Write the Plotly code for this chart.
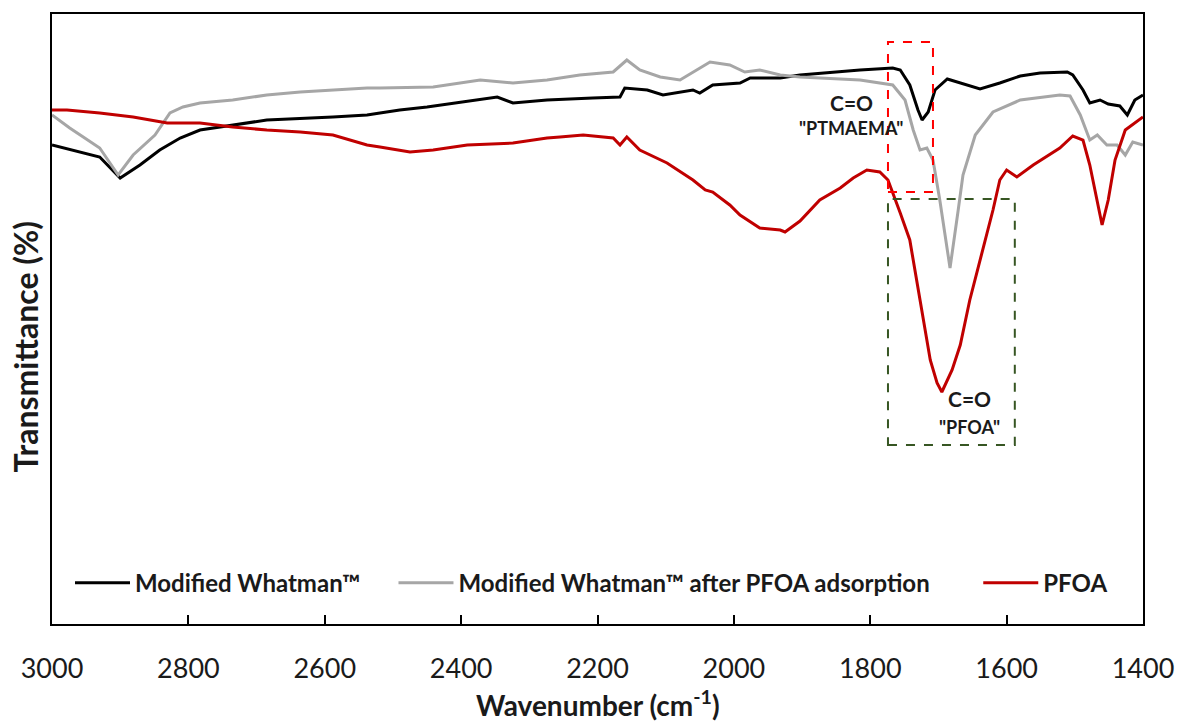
import plotly.graph_objects as go

# ---- data (wavenumber cm-1, transmittance in arbitrary units) ----
wn_black = [3000, 2959, 2930, 2900, 2871, 2842, 2812, 2783, 2735, 2685, 2588, 2538, 2519, 2490, 2450,
            2372, 2347, 2324, 2274, 2207, 2167, 2160, 2127, 2104, 2060, 2050, 2031, 1991, 1976, 1932,
            1903, 1815, 1767, 1756, 1742, 1730, 1724, 1715, 1705, 1687, 1668, 1639, 1610, 1580, 1551,
            1511, 1503, 1488, 1478, 1463, 1451, 1434, 1423, 1412, 1400]
t_black = [479, 472, 467, 446, 459, 474, 486, 494, 499, 504, 507, 509, 511, 514, 517,
           525, 527, 521, 524, 526, 527, 536, 534, 529, 534, 531, 539, 541, 546, 546,
           549, 554, 556, 554, 539, 514, 504, 512, 534, 545, 541, 535, 541, 548, 551,
           552, 549, 534, 521, 524, 520, 518, 509, 524, 529]

wn_gray = [3000, 2974, 2952, 2930, 2903, 2881, 2849, 2827, 2808, 2783, 2735, 2685, 2636, 2538, 2519,
           2441, 2372, 2324, 2274, 2226, 2177, 2157, 2138, 2108, 2079, 2060, 2035, 2006, 1984, 1962,
           1932, 1903, 1815, 1767, 1749, 1737, 1727, 1717, 1708, 1698, 1683, 1671, 1664, 1646, 1620,
           1580, 1522, 1507, 1492, 1478, 1467, 1453, 1438, 1426, 1415, 1400]
t_gray = [509, 496, 486, 476, 449, 469, 489, 511, 517, 521, 524, 529, 532, 536, 536,
          537, 544, 541, 544, 549, 552, 564, 554, 547, 544, 552, 562, 559, 552, 554,
          549, 547, 544, 539, 524, 494, 474, 476, 464, 424, 356, 414, 449, 489, 512,
          524, 529, 528, 509, 484, 489, 479, 479, 469, 482, 479]

wn_red = [3000, 2978, 2930, 2881, 2856, 2831, 2783, 2735, 2685, 2636, 2588, 2538, 2519, 2475, 2441,
          2391, 2324, 2274, 2255, 2221, 2177, 2167, 2157, 2138, 2098, 2060, 2042, 2031, 2006, 1991,
          1962, 1932, 1925, 1903, 1874, 1844, 1825, 1805, 1786, 1774, 1756, 1742, 1727, 1712, 1702,
          1695, 1680, 1668, 1654, 1635, 1620, 1610, 1600, 1585, 1561, 1522, 1503, 1488, 1478, 1463,
          1460, 1451, 1441, 1426, 1412, 1400]
t_red = [514, 514, 511, 507, 504, 501, 501, 497, 494, 492, 489, 479, 477, 472, 474,
         479, 481, 486, 487, 489, 486, 479, 487, 474, 461, 444, 434, 432, 419, 409,
         396, 394, 392, 403, 424, 436, 446, 454, 452, 444, 411, 384, 324, 264, 241,
         232, 254, 279, 324, 374, 414, 444, 454, 447, 459, 476, 488, 484, 459, 409,
         399, 424, 464, 494, 501, 507]

series_names = ["Modified Whatman™", "Modified Whatman™ after PFOA adsorption", "PFOA"]
tick_vals = [3000, 2800, 2600, 2400, 2200, 2000, 1800, 1600, 1400]

FONT = "Lato"
TXT = "#1a1a1a"
colors = ["#000000", "#a6a6a6", "#c00000"]

fig = go.Figure()
data = [(wn_black, t_black), (wn_gray, t_gray), (wn_red, t_red)]
legends = ["legend", "legend2", "legend3"]
for (x, y), name, c, lg in zip(data, series_names, colors, legends):
    fig.add_trace(go.Scatter(x=x, y=y, mode="lines", name="<b>" + name + "</b>",
                             line=dict(color=c, width=3), legend=lg))

# dashed boxes
fig.add_shape(type="rect", x0=1774, x1=1708, y0=432, y1=582,
              line=dict(color="#ff0000", width=2, dash="dash"))
fig.add_shape(type="rect", x0=1774, x1=1588, y0=179, y1=425,
              line=dict(color="#375623", width=2, dash="dash"))

# annotations
ann_font_big = dict(family=FONT, size=21, color=TXT)
ann_font_small = dict(family=FONT, size=18, color=TXT)
fig.add_annotation(x=1828, y=522, text="<b>C=O</b>", showarrow=False, font=ann_font_big)
fig.add_annotation(x=1828, y=496, text='<b>"PTMAEMA"</b>', showarrow=False, font=ann_font_small)
fig.add_annotation(x=1654, y=226, text="<b>C=O</b>", showarrow=False, font=ann_font_big)
fig.add_annotation(x=1654, y=197, text='<b>"PFOA"</b>', showarrow=False, font=ann_font_small)

# axis titles
fig.add_annotation(xref="paper", yref="paper", x=-0.0247, y=0.455, text="<b>Transmittance (%)</b>",
                   textangle=-90, showarrow=False, xanchor="center", yanchor="middle",
                   font=dict(family=FONT, size=32, color=TXT))
fig.add_annotation(xref="paper", yref="paper", x=0.5, y=-0.131, text="<b>Wavenumber (cm<sup>-1</sup>)</b>",
                   showarrow=False, xanchor="center", yanchor="middle",
                   font=dict(family=FONT, size=28, color=TXT))

leg_font = dict(family=FONT, size=24, color=TXT)
lg_common = dict(orientation="h", yanchor="middle", y=0.067, xanchor="left",
                 bgcolor="rgba(0,0,0,0)", font=leg_font, borderwidth=0, itemwidth=55)

fig.update_layout(
    width=1180, height=725,
    margin=dict(l=52, r=37, t=14, b=101, autoexpand=False),
    plot_bgcolor="white", paper_bgcolor="white",
    showlegend=True,
    legend=dict(x=0.0165, **lg_common),
    legend2=dict(x=0.313, **lg_common),
    legend3=dict(x=0.849, **lg_common),
    xaxis=dict(range=[3000, 1400], tickvals=tick_vals, ticks="inside", ticklen=9, tickwidth=2,
               tickcolor="black", showline=True, linecolor="black", linewidth=2, mirror=True,
               showgrid=False, zeroline=False, ticklabelstandoff=20, automargin=False,
               tickfont=dict(family=FONT, size=27, color=TXT)),
    yaxis=dict(range=[0, 610], showticklabels=False, ticks="", showline=True, linecolor="black",
               linewidth=2, mirror=True, showgrid=False, zeroline=False, automargin=False),
)

fig.write_html("out.html")
